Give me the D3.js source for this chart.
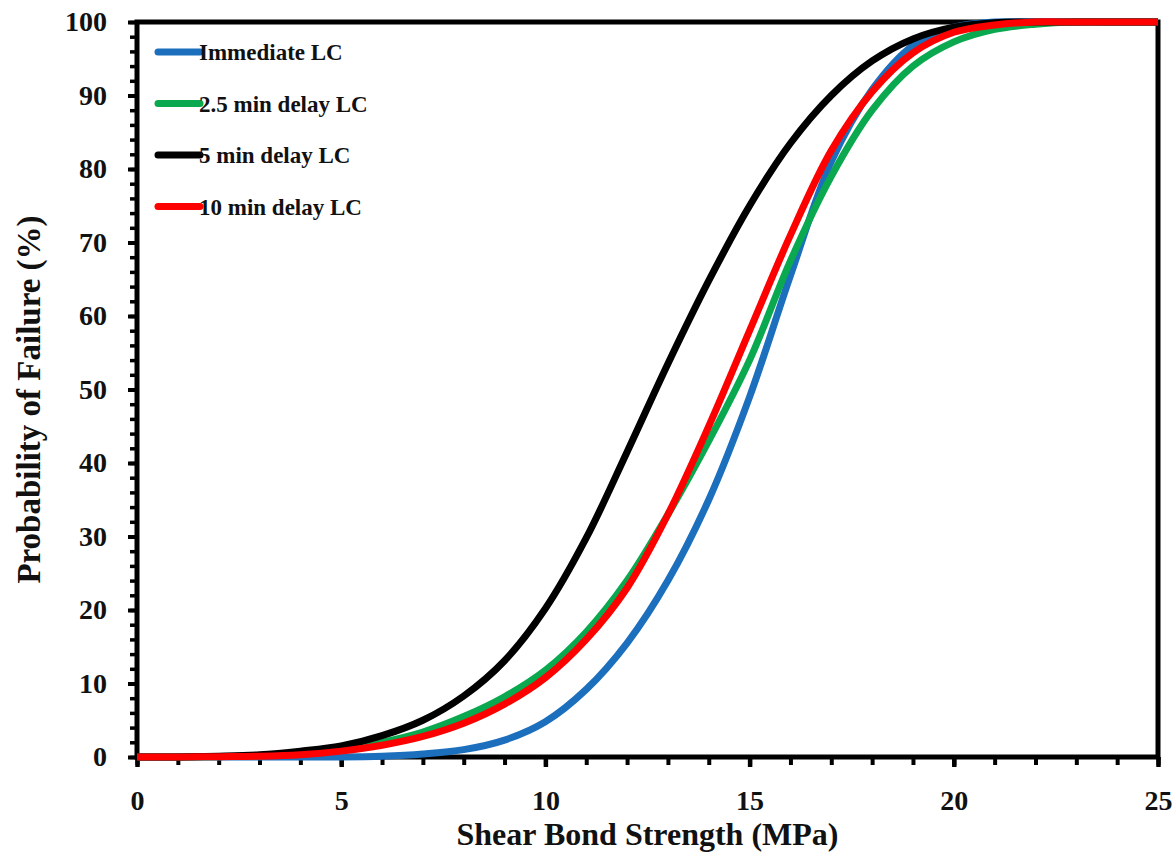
<!DOCTYPE html>
<html>
<head>
<meta charset="utf-8">
<script src="https://cdn.jsdelivr.net/npm/d3@7"></script>
<style>
  body { margin: 0; background: #fff; }
  svg text { font-family: "Liberation Serif", "Times New Roman", serif; font-weight: bold; fill: #111; }
</style>
</head>
<body>
<div id="chart"></div>
<script>
// shear bond strength (MPa)
const strength = [0, 1, 2, 3, 4, 5, 6, 7, 8, 9, 10, 11, 12, 13, 14, 15, 16, 17, 18, 19, 20, 21, 22, 23, 24, 25];

// probability of failure (%)
const immediateLC = [0, 0, 0, 0, 0, 0, 0.1, 0.4, 1, 2.3, 4.8, 9.2, 15.5, 24, 35, 49, 65.5, 81, 90.8, 96.8, 99.3, 100, 100, 100, 100, 100];
const delay25LC   = [0, 0, 0.05, 0.15, 0.4, 1, 2, 3.4, 5.5, 8.2, 11.8, 17, 24, 33, 43, 54, 67.5, 79, 88, 94, 97.3, 99, 99.7, 100, 100, 100];
const delay5LC    = [0, 0, 0.1, 0.3, 0.8, 1.5, 2.9, 5, 8.3, 13.1, 20.2, 29.8, 41.5, 53.5, 64.8, 75, 83.5, 90, 94.7, 97.7, 99.3, 99.9, 100, 100, 100, 100];
const delay10LC   = [0, 0, 0.05, 0.1, 0.3, 0.8, 1.6, 2.8, 4.6, 7.2, 10.8, 16, 23, 33, 45, 58, 71, 82.5, 90.5, 95.8, 98.6, 99.6, 100, 100, 100, 100];

const seriesNames = ["Immediate LC", "2.5 min delay LC", "5 min delay LC", "10 min delay LC"];
const seriesColors = ["#1c6fbd", "#0aa84f", "#000000", "#ff0000"];
const seriesValues = [immediateLC, delay25LC, delay5LC, delay10LC];

const xMajor = [0, 5, 10, 15, 20, 25];
const yMajor = [0, 10, 20, 30, 40, 50, 60, 70, 80, 90, 100];

const dim = {
    width: 1176,
    height: 853,
    margin: { top: 22, right: 18, bottom: 96, left: 137 }
};
dim.w = dim.width - dim.margin.left - dim.margin.right;
dim.h = dim.height - dim.margin.top - dim.margin.bottom;

const svg = d3.select("#chart")
    .append("svg")
    .attr("width", dim.width)
    .attr("height", dim.height);

const g = svg.append("g")
    .attr("transform", `translate(${dim.margin.left},${dim.margin.top})`);

const x = d3.scaleLinear().domain([0, 25]).range([0, dim.w]);
const y = d3.scaleLinear().domain([0, 100]).range([dim.h, 0]);

// minor ticks
g.append("g")
    .attr("transform", `translate(0,${dim.h})`)
    .call(d3.axisBottom(x).tickValues(d3.range(0, 26, 1)).tickSize(8).tickFormat(""))
    .call(a => a.select(".domain").remove())
    .selectAll("line").attr("stroke-width", 4);

g.append("g")
    .call(d3.axisLeft(y).tickValues(d3.range(0, 101, 2)).tickSize(7).tickFormat(""))
    .call(a => a.select(".domain").remove())
    .selectAll("line").attr("stroke-width", 3.5);

// major ticks + labels
const xAxis = g.append("g")
    .attr("transform", `translate(0,${dim.h})`)
    .call(d3.axisBottom(x).tickValues(xMajor).tickSize(10).tickPadding(23))
    .call(a => a.select(".domain").remove());
xAxis.selectAll("line").attr("stroke-width", 4.5);
xAxis.selectAll("text").attr("font-size", 28);

const yAxis = g.append("g")
    .call(d3.axisLeft(y).tickValues(yMajor).tickSize(9).tickPadding(21))
    .call(a => a.select(".domain").remove());
yAxis.selectAll("line").attr("stroke-width", 4);
yAxis.selectAll("text").attr("font-size", 28);

// frame
g.append("rect")
    .attr("x", 0).attr("y", 0)
    .attr("width", dim.w).attr("height", dim.h)
    .attr("fill", "none")
    .attr("stroke", "#000")
    .attr("stroke-width", 5);

// curves
const line = d3.line()
    .x((d, i) => x(strength[i]))
    .y(d => y(Math.min(100, Math.max(0, d))))
    .curve(d3.curveCatmullRom.alpha(0.5));

seriesValues.forEach((vals, i) => {
    g.append("path")
        .datum(vals)
        .attr("d", line)
        .attr("fill", "none")
        .attr("stroke", seriesColors[i])
        .attr("stroke-width", 7)
        .attr("stroke-linejoin", "round");
});

// legend
const legend = g.append("g").attr("transform", "translate(21,30)");
seriesNames.forEach((name, i) => {
    const row = legend.append("g").attr("transform", `translate(0,${i * 51.5})`);
    row.append("line")
        .attr("x1", 0).attr("x2", 42)
        .attr("stroke", seriesColors[i])
        .attr("stroke-width", 7)
        .attr("stroke-linecap", "round");
    row.append("text")
        .attr("x", 41)
        .attr("dy", "0.35em")
        .attr("font-size", 23)
        .text(name);
});

// axis titles
svg.append("text")
    .attr("x", dim.margin.left + dim.w / 2)
    .attr("y", 845)
    .attr("text-anchor", "middle")
    .attr("font-size", 32)
    .text("Shear Bond Strength (MPa)");

svg.append("text")
    .attr("transform", `translate(40,${dim.margin.top + dim.h / 2 + 10}) rotate(-90)`)
    .attr("text-anchor", "middle")
    .attr("font-size", 33)
    .text("Probability of Failure (%)");
</script>
</body>
</html>
